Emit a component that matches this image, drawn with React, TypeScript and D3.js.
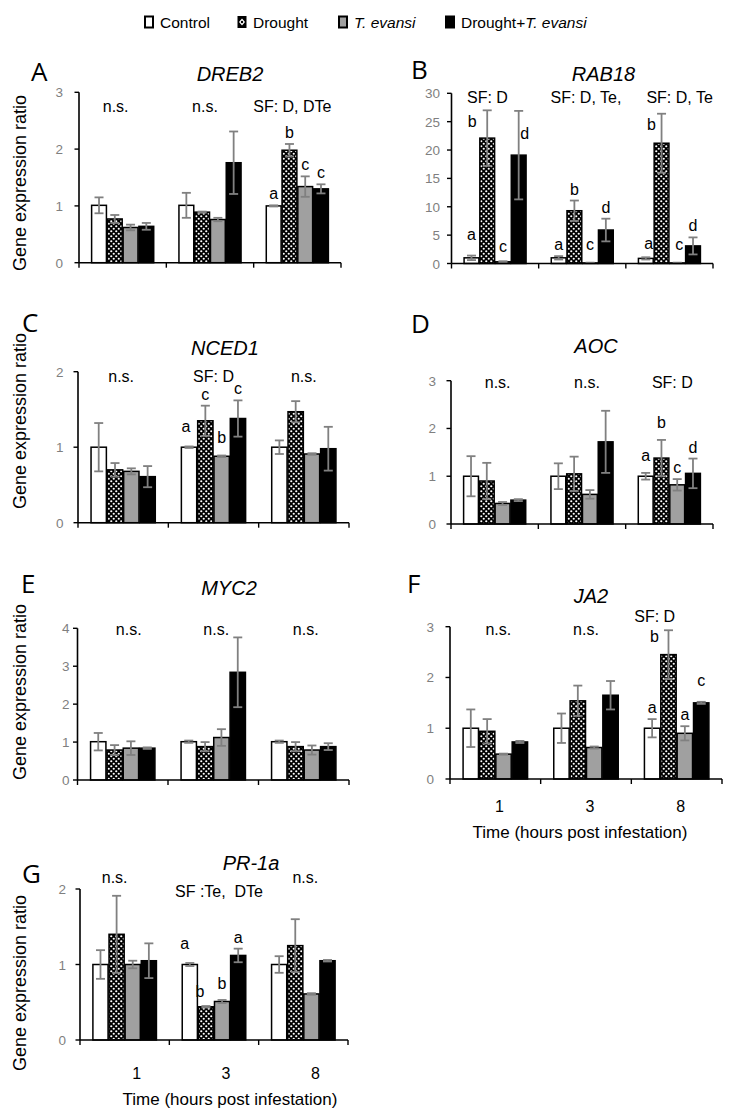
import React from "react";
import * as d3 from "d3";

// ---------------- DATA ----------------
const timePoints = ["1", "3", "8"];
const treatments = ["Control", "Drought", "T. evansi", "Drought+T. evansi"];

const dreb2Mean = [[1.01, 0.77, 0.62, 0.64], [1.01, 0.89, 0.76, 1.76], [1.0, 1.98, 1.34, 1.3]];
const dreb2Err = [[0.14, 0.07, 0.05, 0.06], [0.22, 0.01, 0.03, 0.55], [0.01, 0.11, 0.18, 0.08]];
const dreb2Letters = [["", "", "", ""], ["", "", "", ""], ["a", "b", "c", "c"]];
const dreb2Notes = ["n.s.", "n.s.", "SF: D, DTe"];

const rab18Mean = [[1.0, 22.1, 0.3, 19.1], [1.0, 9.3, 0.1, 5.9], [0.9, 21.2, 0.1, 3.1]];
const rab18Err = [[0.4, 4.9, 0.1, 7.8], [0.3, 1.8, 0.05, 2.0], [0.2, 5.2, 0.05, 1.5]];
const rab18Letters = [["a", "b", "c", "d"], ["a", "b", "c", "d"], ["a", "b", "c", "d"]];
const rab18Notes = ["SF: D", "SF: D, Te,", "SF: D, Te"];

const nced1Mean = [[1.0, 0.7, 0.68, 0.61], [1.0, 1.35, 0.88, 1.38], [1.0, 1.47, 0.91, 0.98]];
const nced1Err = [[0.32, 0.09, 0.04, 0.14], [0.01, 0.2, 0.01, 0.24], [0.09, 0.14, 0.01, 0.29]];
const nced1Letters = [["", "", "", ""], ["a", "c", "b", "c"], ["", "", "", ""]];
const nced1Notes = ["n.s.", "SF: D", "n.s."];

const aocMean = [[1.0, 0.9, 0.43, 0.5], [1.0, 1.05, 0.62, 1.72], [1.0, 1.38, 0.82, 1.06]];
const aocErr = [[0.42, 0.38, 0.03, 0.02], [0.27, 0.36, 0.09, 0.65], [0.07, 0.38, 0.12, 0.31]];
const aocLetters = [["", "", "", ""], ["", "", "", ""], ["a", "b", "c", "d"]];
const aocNotes = ["n.s.", "n.s.", "SF: D"];

const myc2Mean = [[1.01, 0.79, 0.84, 0.84], [1.01, 0.88, 1.12, 2.84], [1.01, 0.88, 0.79, 0.88]];
const myc2Err = [[0.23, 0.13, 0.18, 0.02], [0.03, 0.12, 0.22, 0.92], [0.03, 0.12, 0.12, 0.09]];
const myc2Letters = [["", "", "", ""], ["", "", "", ""], ["", "", "", ""]];
const myc2Notes = ["n.s.", "n.s.", "n.s."];

const ja2Mean = [[1.0, 0.94, 0.49, 0.73], [1.0, 1.54, 0.62, 1.65], [1.0, 2.45, 0.9, 1.5]];
const ja2Err = [[0.37, 0.24, 0.01, 0.02], [0.29, 0.3, 0.02, 0.28], [0.18, 0.48, 0.14, 0.02]];
const ja2Letters = [["", "", "", ""], ["", "", "", ""], ["a", "b", "a", "c"]];
const ja2Notes = ["n.s.", "n.s.", "SF: D"];

const pr1aMean = [[1.0, 1.4, 1.0, 1.05], [1.0, 0.44, 0.51, 1.12], [1.0, 1.25, 0.61, 1.05]];
const pr1aErr = [[0.19, 0.51, 0.05, 0.23], [0.02, 0.01, 0.02, 0.09], [0.11, 0.35, 0.01, 0.01]];
const pr1aLetters = [["", "", "", ""], ["a", "b", "b", "a"], ["", "", "", ""]];
const pr1aNotes = ["n.s.", "SF :Te,  DTe", "n.s."];

const yTicksA = [0, 1, 2, 3];
const yTicksB = [0, 5, 10, 15, 20, 25, 30];
const yTicksC = [0, 1, 2];
const yTicksD = [0, 1, 2, 3];
const yTicksE = [0, 1, 2, 3, 4];
const yTicksF = [0, 1, 2, 3];
const yTicksG = [0, 1, 2];

// ---------------- LAYOUT / STYLE ----------------
const FONT = "'Liberation Sans', Arial, sans-serif";
const GRAY_TICK = "#7f7f7f";
const ERR_COLOR = "#808080";
const TE_FILL = "#a0a0a0";

type Nudge = { dx?: number; dy?: number };

const panels = [
  { key: "A", gene: "DREB2", mean: dreb2Mean, err: dreb2Err, letters: dreb2Letters, notes: dreb2Notes, ticks: yTicksA,
    x0: 79, x1: 341, yTop: 92.3, y0: 262.7, title: [230, 81], letter: [31, 81], yLabelCy: 183, tickGap: 16,
    noteY: [111.7, 111.7, 111.7], noteDx: [-7, -5, -5] },
  { key: "B", gene: "RAB18", mean: rab18Mean, err: rab18Err, letters: rab18Letters, notes: rab18Notes, ticks: yTicksB,
    x0: 451.5, x1: 713, yTop: 93.3, y0: 263.5, title: [603.5, 81], letter: [411, 79], tickGap: 11.5,
    noteY: [103, 103, 103], noteDx: [-7.6, 3.7, 10.2] },
  { key: "C", gene: "NCED1", mean: nced1Mean, err: nced1Err, letters: nced1Letters, notes: nced1Notes, ticks: yTicksC,
    x0: 78, x1: 349, yTop: 371.7, y0: 522.7, title: [225, 355], letter: [22, 332], yLabelCy: 421, tickGap: 14.5,
    noteY: [381.7, 381.7, 381.7], noteDx: [-2, 0, 0] },
  { key: "D", gene: "AOC", mean: aocMean, err: aocErr, letters: aocLetters, notes: aocNotes, ticks: yTicksD,
    x0: 451, x1: 713, yTop: 380.7, y0: 524, title: [596, 353], letter: [411, 333], tickGap: 15,
    noteY: [387.5, 387.5, 387.5], noteDx: [3, 5, 3] },
  { key: "E", gene: "MYC2", mean: myc2Mean, err: myc2Err, letters: myc2Letters, notes: myc2Notes, ticks: yTicksE,
    x0: 77.5, x1: 349, yTop: 628.3, y0: 780, title: [229, 595], letter: [21, 593], yLabelCy: 692, tickGap: 8,
    noteY: [635, 635, 635], noteDx: [6, 3, 2] },
  { key: "F", gene: "JA2", mean: ja2Mean, err: ja2Err, letters: ja2Letters, notes: ja2Notes, ticks: yTicksF,
    x0: 450, x1: 722, yTop: 626.7, y0: 779, title: [591, 603], letter: [407, 593], tickGap: 16,
    noteY: [635, 635, 621.7], noteDx: [3, 0, -22], xTickY: 811.7, xTickDx: 4, xTitle: [580, 838] },
  { key: "G", gene: "PR-1a", mean: pr1aMean, err: pr1aErr, letters: pr1aLetters, notes: pr1aNotes, ticks: yTicksG,
    x0: 80, x1: 348, yTop: 889, y0: 1040, title: [251, 870], letter: [22, 883], yLabelCy: 983, tickGap: 14,
    noteY: [883, 897, 883], noteDx: [-10, 5, 2], xTickY: 1079, xTickDx: 12, xTitle: [230, 1105] },
];

const letterNudges: Record<string, Nudge> = {
  "B-0-0": { dy: -10 },
  "B-0-1": { dx: -15, dy: 23 },
  "B-0-2": { dy: -3 },
  "B-0-3": { dx: 6, dy: 34 },
  "B-1-2": { dy: -7 },
  "B-2-0": { dx: 3, dy: -2 },
  "B-2-1": { dx: -10, dy: 22 },
  "B-2-2": { dx: 2, dy: -7 },
  "C-1-0": { dx: -3, dy: -8 },
  "C-1-2": { dy: -7 },
  "D-2-0": { dy: -6 },
  "D-2-1": { dy: -6 },
  "F-2-1": { dx: -14, dy: 18 },
  "F-2-3": { dy: -10 },
  "G-1-0": { dx: -5, dy: -8 },
  "G-1-1": { dx: -6, dy: -3 },
  "G-1-2": { dy: -5 },
};

const legendX = [145, 238, 339, 446];

function barFill(i: number) {
  if (i === 0) return "#ffffff";
  if (i === 1) return "url(#droughtPat)";
  if (i === 2) return TE_FILL;
  return "#000000";
}

function Panel({ p }: { p: (typeof panels)[number] }) {
  const yMax = p.ticks[p.ticks.length - 1];
  const y = d3.scaleLinear().domain([0, yMax]).range([p.y0, p.yTop]);
  const xg = d3.scaleBand<string>().domain(timePoints).range([p.x0, p.x1]).paddingInner(0).paddingOuter(0);
  const xb = d3.scaleBand<string>().domain(treatments).range([0, xg.bandwidth()]).paddingInner(0.06).paddingOuter(0.8);
  const bw = xb.bandwidth();
  const boundaries = [p.x0, ...timePoints.map((t) => (xg(t) as number) + xg.bandwidth())];

  return (
    <g>
      <text x={p.letter[0]} y={p.letter[1]} fontFamily="'Open Sans', 'Noto Sans', sans-serif" fontSize={26} fill="#000">
        {p.key}
      </text>
      <text x={p.title[0]} y={p.title[1]} textAnchor="middle" fontFamily={FONT} fontStyle="italic" fontSize={20} fill="#000">
        {p.gene}
      </text>
      {p.yLabelCy !== undefined && (
        <text transform={`translate(26,${p.yLabelCy}) rotate(-90)`} textAnchor="middle" fontFamily={FONT} fontSize={18} fill="#000">
          Gene expression ratio
        </text>
      )}
      {timePoints.map((t, gi) =>
        treatments.map((tr, bi) => {
          const v = p.mean[gi][bi];
          const e = p.err[gi][bi];
          const bx = (xg(t) as number) + (xb(tr) as number);
          const cx = bx + bw / 2;
          const top = y(v);
          const eTop = y(v + e);
          const eBot = y(Math.max(0, v - e));
          const letter = p.letters[gi][bi];
          const nd = letterNudges[`${p.key}-${gi}-${bi}`] || {};
          return (
            <g key={`${gi}-${bi}`}>
              <rect x={bx} y={top} width={bw} height={p.y0 - top} fill={barFill(bi)} stroke="#000" strokeWidth={1.5} />
              <line x1={cx} x2={cx} y1={eTop} y2={eBot} stroke={ERR_COLOR} strokeWidth={1.8} />
              <line x1={cx - 4.5} x2={cx + 4.5} y1={eTop} y2={eTop} stroke={ERR_COLOR} strokeWidth={1.8} />
              <line x1={cx - 4.5} x2={cx + 4.5} y1={eBot} y2={eBot} stroke={ERR_COLOR} strokeWidth={1.8} />
              {letter && (
                <text x={cx + (nd.dx || 0)} y={eTop - 6 + (nd.dy || 0)} textAnchor="middle" fontFamily={FONT} fontSize={16} fill="#000">
                  {letter}
                </text>
              )}
            </g>
          );
        })
      )}
      <line x1={p.x0} x2={p.x0} y1={p.yTop} y2={p.y0} stroke="#000" strokeWidth={1.6} />
      <line x1={p.x0} x2={p.x1} y1={p.y0} y2={p.y0} stroke="#000" strokeWidth={1.6} />
      {p.ticks.map((tv) => (
        <g key={tv}>
          <line x1={p.x0 - 4.5} x2={p.x0} y1={y(tv)} y2={y(tv)} stroke="#000" strokeWidth={1.4} />
          <text x={p.x0 - p.tickGap} y={y(tv) + 5} textAnchor="end" fontFamily={FONT} fontSize={13.5} fill={GRAY_TICK}>
            {tv}
          </text>
        </g>
      ))}
      {boundaries.map((bx, i) => (
        <line key={i} x1={bx} x2={bx} y1={p.y0} y2={p.y0 + 5} stroke="#000" strokeWidth={1.4} />
      ))}
      {timePoints.map((t, gi) => (
        <text key={`n${gi}`} x={(xg(t) as number) + xg.bandwidth() / 2 + p.noteDx[gi]} y={p.noteY[gi]} textAnchor="middle"
          fontFamily={FONT} fontSize={16} fill="#000" style={{ whiteSpace: "pre" }}>
          {p.notes[gi]}
        </text>
      ))}
      {p.xTickY !== undefined &&
        timePoints.map((t) => (
          <text key={`x${t}`} x={(xg(t) as number) + xg.bandwidth() / 2 + (p.xTickDx || 0)} y={p.xTickY} textAnchor="middle"
            fontFamily={FONT} fontSize={16} fill="#000">
            {t}
          </text>
        ))}
      {p.xTitle !== undefined && (
        <text x={p.xTitle[0]} y={p.xTitle[1]} textAnchor="middle" fontFamily={FONT} fontSize={17} fill="#000">
          Time (hours post infestation)
        </text>
      )}
    </g>
  );
}

function Legend() {
  const by = 16.5;
  return (
    <g fontFamily={FONT} fontSize={15.5}>
      {treatments.map((tr, i) => {
        const x = legendX[i];
        return (
          <g key={tr}>
            {i === 1 ? (
              <g>
                <rect x={x} y={by} width={8} height={11} fill="#000" stroke="#000" strokeWidth={1} />
                <path d={`M${x + 4},${by + 2} L${x + 7},${by + 5.5} L${x + 4},${by + 9} L${x + 1},${by + 5.5} Z`} fill="#fff" />
                <circle cx={x + 4} cy={by + 5.5} r={1.2} fill="#000" />
              </g>
            ) : (
              <rect x={x} y={by} width={8} height={11} fill={barFill(i)} stroke="#000" strokeWidth={2} />
            )}
            <text x={x + 15} y={27.5} fill="#000">
              {i === 2 ? (
                <tspan fontStyle="italic">T. evansi</tspan>
              ) : i === 3 ? (
                <>
                  <tspan>Drought+</tspan>
                  <tspan fontStyle="italic">T. evansi</tspan>
                </>
              ) : (
                tr
              )}
            </text>
          </g>
        );
      })}
    </g>
  );
}

export default function App() {
  return (
    <svg width={732} height={1119} style={{ position: "absolute", left: 0, top: 0, display: "block", background: "#fff" }}>
      <defs>
        <pattern id="droughtPat" patternUnits="userSpaceOnUse" width={5} height={5}>
          <rect width={5} height={5} fill="#000" />
          <circle cx={1.25} cy={1.25} r={1.1} fill="#fff" />
          <circle cx={3.75} cy={3.75} r={1.1} fill="#fff" />
        </pattern>
      </defs>
      <rect width={732} height={1119} fill="#fff" />
      <Legend />
      {panels.map((p) => (
        <Panel key={p.key} p={p} />
      ))}
    </svg>
  );
}
